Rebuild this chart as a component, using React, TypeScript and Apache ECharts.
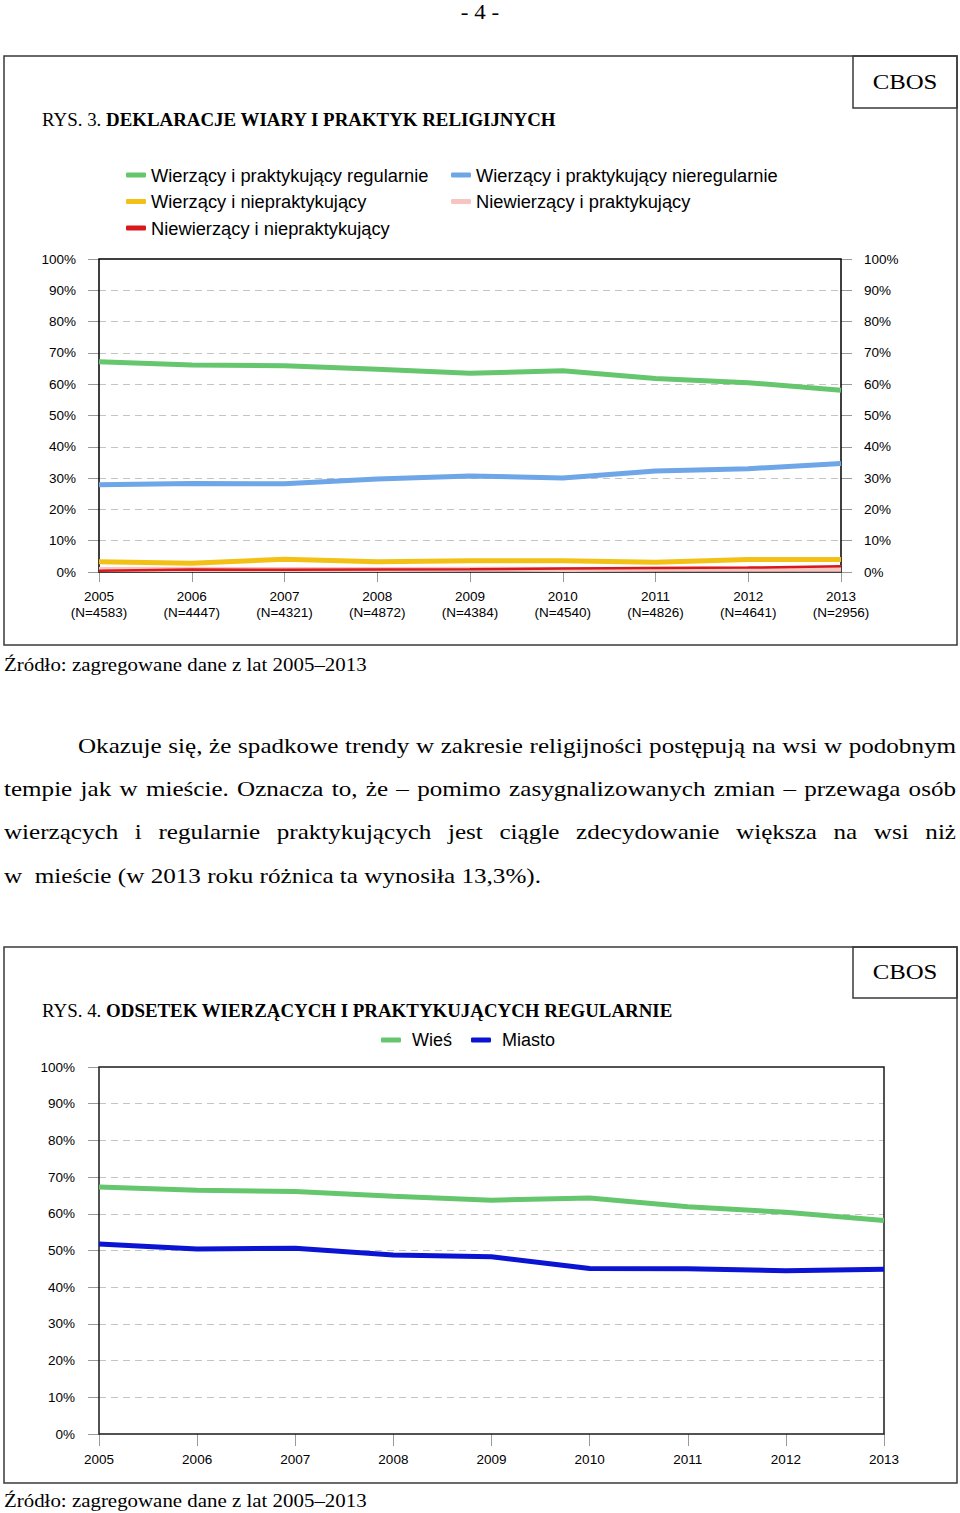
import React, { useEffect, useRef } from 'react';
import * as echarts from 'echarts';

// ---------- data ----------
const years = ['2005', '2006', '2007', '2008', '2009', '2010', '2011', '2012', '2013'];
const sampleSizes = ['4583', '4447', '4321', '4872', '4384', '4540', '4826', '4641', '2956'];

const seriesNames1 = [
  'Wierzący i praktykujący regularnie',
  'Wierzący i praktykujący nieregularnie',
  'Wierzący i niepraktykujący',
  'Niewierzący i praktykujący',
  'Niewierzący i niepraktykujący',
];
const believersRegular = [67.2, 66.1, 65.9, 64.8, 63.5, 64.3, 61.8, 60.5, 58.1];
const believersIrregular = [27.9, 28.3, 28.2, 29.7, 30.7, 30.0, 32.3, 33.0, 34.7];
const believersNonPracticing = [3.3, 2.8, 4.1, 3.3, 3.6, 3.6, 3.1, 4.0, 4.0];
const nonBelieversPracticing = [0.8, 0.9, 0.8, 0.8, 0.9, 0.8, 0.9, 0.9, 0.9];
const nonBelieversNonPracticing = [0.4, 0.8, 0.7, 0.8, 0.9, 1.1, 1.3, 1.4, 1.8];

const seriesNames2 = ['Wieś', 'Miasto'];
const ruralRegular = [67.3, 66.4, 66.1, 64.8, 63.7, 64.3, 61.9, 60.4, 58.2];
const urbanRegular = [51.8, 50.4, 50.6, 48.8, 48.3, 45.1, 45.0, 44.5, 44.9];

const pageNumber = '- 4 -';
const title1Prefix = 'RYS. 3. ';
const title1 = 'DEKLARACJE WIARY I PRAKTYK RELIGIJNYCH';
const title2Prefix = 'RYS. 4. ';
const title2 = 'ODSETEK WIERZĄCYCH I PRAKTYKUJĄCYCH REGULARNIE';
const sourceText = 'Źródło: zagregowane dane z lat 2005–2013';
const brand = 'CBOS';
const paragraphLines = [
  'Okazuje się, że spadkowe trendy w zakresie religijności postępują na wsi w podobnym',
  'tempie jak w mieście. Oznacza to, że – pomimo zasygnalizowanych zmian – przewaga osób',
  'wierzących i regularnie praktykujących jest ciągle zdecydowanie większa na wsi niż',
  'w\u00a0 mieście (w 2013 roku różnica ta wynosiła 13,3%).',
];

// ---------- styles ----------
const SANS = '"Liberation Sans", Arial, sans-serif';
const SERIF = '"Liberation Serif", "Times New Roman", serif';
const colors1 = ['#66c66e', '#6ea6e8', '#f3c116', '#f7c4c0', '#d7191c'];
const colors2 = ['#66c66e', '#0a14d2'];

const paraLayout = [
  { left: 78, right: 956, center: 745, justify: true },
  { left: 4, right: 956, center: 788, justify: true },
  { left: 4, right: 956, center: 831, justify: true },
  { left: 4, right: 541, center: 875, justify: false },
];

function serifText(text: string, x: number, y: number, size: number, scaleX: number, align = 'left', bold = false) {
  return {
    type: 'text',
    x,
    y,
    scaleX,
    silent: true,
    style: {
      text,
      font: `${bold ? 'bold ' : ''}${size}px ${SERIF}`,
      fill: '#000',
      align,
      textAlign: align,
      verticalAlign: 'middle',
      textVerticalAlign: 'middle',
    },
  };
}

function titleText(prefix: string, text: string, x: number, y: number) {
  return {
    type: 'text',
    x,
    y,
    scaleX: 1.05,
    silent: true,
    style: {
      text: `{a|${prefix}}{b|${text}}`,
      fill: '#000',
      verticalAlign: 'middle',
      textVerticalAlign: 'middle',
      rich: {
        a: { font: `18px ${SERIF}`, fill: '#000' },
        b: { font: `bold 18px ${SERIF}`, fill: '#000' },
      },
    },
  };
}

function boxRect(x: number, y: number, w: number, h: number, stroke = '#3a3a3a', z = 10) {
  return {
    type: 'rect',
    silent: true,
    z,
    shape: { x, y, width: w, height: h },
    style: { fill: 'none', stroke, lineWidth: 1.5 },
  };
}

function lineSeries(name: string, data: number[], color: string, axisIdx: number, yIdx: number, width = 5, z = 2) {
  return {
    type: 'line',
    name,
    data,
    xAxisIndex: axisIdx,
    yAxisIndex: yIdx,
    symbol: 'none',
    showSymbol: false,
    silent: true,
    z,
    lineStyle: { color, width },
    itemStyle: { color },
    emphasis: { disabled: true },
  };
}

const axisLabelStyle = { color: '#000', fontSize: 13.5, fontFamily: SANS };
const tickStyle = { color: '#9a9a9a', width: 1 };
const gridLineStyle = { color: '#c4c4c4', type: [7, 5], width: 1 };

export default function App() {
  const chartRef = useRef<HTMLDivElement | null>(null);
  const lineRefs = useRef<(HTMLSpanElement | null)[]>([]);

  useEffect(() => {
    // fit paragraph lines
    paraLayout.forEach((p, i) => {
      const span = lineRefs.current[i];
      if (!span) return;
      span.style.transform = 'none';
      span.style.wordSpacing = '0px';
      const w = span.getBoundingClientRect().width;
      const target = p.right - p.left;
      let scale = 1.14;
      if (p.justify) {
        const spaces = (paragraphLines[i].match(/ /g) || []).length;
        let extra = target / scale - w;
        if (extra < 0) {
          scale = target / w;
          extra = 0;
        }
        span.style.wordSpacing = `${spaces ? extra / spaces : 0}px`;
      } else {
        scale = target / w;
      }
      span.style.transform = `scaleX(${scale})`;
    });

    if (!chartRef.current) return;
    const chart = echarts.init(chartRef.current, null, { renderer: 'svg' });
    const xLabels1 = years.map((y, i) => `${y}\n(N=${sampleSizes[i]})`);

    const option = {
      animation: false,
      backgroundColor: '#fff',
      textStyle: { fontFamily: SANS },
      grid: [
        {
          left: 99, top: 259, width: 742, height: 313,
          show: false, containLabel: false, outerBoundsMode: 'none',
        },
        {
          left: 99, top: 1067, width: 785, height: 367,
          show: false, containLabel: false, outerBoundsMode: 'none',
        },
      ],
      legend: [
        {
          data: [seriesNames1[0], seriesNames1[2], seriesNames1[4]],
          orient: 'vertical', left: 126, top: 165, padding: 0, itemGap: 6.5,
          icon: 'roundRect', itemWidth: 20, itemHeight: 5, selectedMode: false,
          textStyle: { fontSize: 18.3, lineHeight: 20, color: '#000', fontFamily: SANS },
        },
        {
          data: [seriesNames1[1], seriesNames1[3]],
          orient: 'vertical', left: 451, top: 165, padding: 0, itemGap: 6.5,
          icon: 'roundRect', itemWidth: 20, itemHeight: 5, selectedMode: false,
          textStyle: { fontSize: 18.3, lineHeight: 20, color: '#000', fontFamily: SANS },
        },
        {
          data: seriesNames2,
          orient: 'horizontal', left: 381, top: 1030, padding: 0, itemGap: 19,
          icon: 'roundRect', itemWidth: 20, itemHeight: 5, selectedMode: false,
          textStyle: { fontSize: 18, lineHeight: 20, color: '#000', fontFamily: SANS, padding: [0, 0, 0, 6] },
        },
      ],
      xAxis: [
        {
          gridIndex: 0, type: 'category', data: xLabels1, boundaryGap: false,
          axisLine: { show: false },
          axisTick: { show: true, length: 10, lineStyle: tickStyle },
          axisLabel: { ...axisLabelStyle, lineHeight: 16, margin: 16, interval: 0 },
          splitLine: { show: false },
        },
        {
          gridIndex: 1, type: 'category', data: years, boundaryGap: false,
          axisLine: { show: false },
          axisTick: { show: true, length: 12, lineStyle: tickStyle },
          axisLabel: { ...axisLabelStyle, margin: 18, interval: 0 },
          splitLine: { show: false },
        },
      ],
      yAxis: [
        {
          gridIndex: 0, type: 'value', min: 0, max: 100, interval: 10, position: 'left',
          axisLine: { show: false },
          axisTick: { show: true, length: 11, lineStyle: tickStyle },
          axisLabel: { ...axisLabelStyle, formatter: '{value}%', margin: 23 },
          splitLine: { show: true, showMinLine: false, showMaxLine: false, lineStyle: gridLineStyle },
        },
        {
          gridIndex: 0, type: 'value', min: 0, max: 100, interval: 10, position: 'right',
          axisLine: { show: false },
          axisTick: { show: true, length: 11, lineStyle: tickStyle },
          axisLabel: { ...axisLabelStyle, formatter: '{value}%', margin: 23 },
          splitLine: { show: false },
        },
        {
          gridIndex: 1, type: 'value', min: 0, max: 100, interval: 10, position: 'left',
          axisLine: { show: false },
          axisTick: { show: true, length: 11, lineStyle: tickStyle },
          axisLabel: { ...axisLabelStyle, formatter: '{value}%', margin: 24 },
          splitLine: { show: true, showMinLine: false, showMaxLine: false, lineStyle: gridLineStyle },
        },
      ],
      series: [
        lineSeries(seriesNames1[0], believersRegular, colors1[0], 0, 0),
        lineSeries(seriesNames1[1], believersIrregular, colors1[1], 0, 0),
        lineSeries(seriesNames1[2], believersNonPracticing, colors1[2], 0, 0),
        lineSeries(seriesNames1[3], nonBelieversPracticing, colors1[3], 0, 0, 5, 2),
        lineSeries(seriesNames1[4], nonBelieversNonPracticing, colors1[4], 0, 0, 2.5, 3),
        lineSeries(seriesNames2[0], ruralRegular, colors2[0], 1, 2),
        lineSeries(seriesNames2[1], urbanRegular, colors2[1], 1, 2),
      ],
      graphic: [
        serifText(pageNumber, 480, 13, 20, 1.15, 'center'),
        boxRect(4, 56, 953, 589),
        boxRect(853, 56, 104, 52),
        serifText(brand, 905, 82, 21, 1.18, 'center'),
        titleText(title1Prefix, title1, 42, 120),
        boxRect(99, 259, 742, 313, '#000', 1),
        serifText(sourceText, 4, 664, 19, 1.1, 'left'),
        boxRect(4, 947, 953, 536),
        boxRect(853, 947, 104, 51),
        serifText(brand, 905, 972, 21, 1.18, 'center'),
        titleText(title2Prefix, title2, 42, 1011),
        boxRect(99, 1067, 785, 367, '#1a1a1a', 1),
        serifText(sourceText, 4, 1500, 19, 1.1, 'left'),
      ],
    };
    chart.setOption(option as any);
    return () => {
      chart.dispose();
    };
  }, []);

  return (
    <div style={{ position: 'absolute', left: 0, top: 0, width: 960, height: 1513, background: '#fff', overflow: 'hidden' }}>
      <div ref={chartRef} style={{ position: 'absolute', left: 0, top: 0, width: 960, height: 1513 }} />
      {paragraphLines.map((line, i) => (
        <span
          key={i}
          ref={(el) => { lineRefs.current[i] = el; }}
          style={{
            position: 'absolute',
            left: paraLayout[i].left,
            top: paraLayout[i].center - 21.5,
            height: 43,
            lineHeight: '43px',
            fontSize: 22,
            fontFamily: SERIF,
            color: '#000',
            whiteSpace: 'pre',
            display: 'inline-block',
            transformOrigin: '0 0',
          }}
        >
          {line}
        </span>
      ))}
    </div>
  );
}
